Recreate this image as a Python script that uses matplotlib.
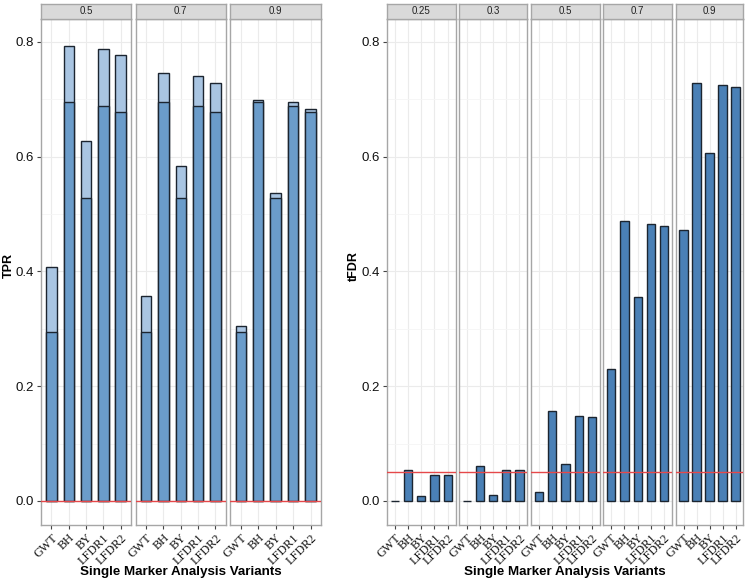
import matplotlib
matplotlib.use("Agg")
import matplotlib.pyplot as plt
from matplotlib.ticker import MultipleLocator

categories = ["GWT", "BH", "BY", "LFDR1", "LFDR2"]

tpr_groups = ["0.5", "0.7", "0.9"]
tpr_upper = [
    [0.408, 0.793, 0.628, 0.788, 0.778],
    [0.358, 0.746, 0.584, 0.741, 0.729],
    [0.305, 0.699, 0.537, 0.695, 0.683],
]
tpr_lower = [
    [0.295, 0.696, 0.528, 0.689, 0.678],
    [0.295, 0.696, 0.528, 0.689, 0.678],
    [0.295, 0.696, 0.528, 0.689, 0.678],
]

fdr_groups = ["0.25", "0.3", "0.5", "0.7", "0.9"]
fdr_values = [
    [0.000, 0.053, 0.009, 0.046, 0.046],
    [0.000, 0.060, 0.011, 0.053, 0.053],
    [0.015, 0.156, 0.064, 0.148, 0.146],
    [0.230, 0.488, 0.356, 0.483, 0.479],
    [0.473, 0.729, 0.607, 0.725, 0.722],
]

tpr_ref = 0.0
fdr_ref = 0.05
y_ticks = [0.0, 0.2, 0.4, 0.6, 0.8]

W, H = 747, 582
fig = plt.figure(figsize=(W / 100, H / 100), dpi=100)
fig.patch.set_facecolor("white")

SANS = ["Liberation Sans", "DejaVu Sans"]
SERIF = ["Liberation Serif", "DejaVu Serif"]

LIGHT = "#a9c5e2"
DARK = "#6b9cca"
SOLID = "#4a80b6"
EDGE = "#1c2530"
RED = "#e5484a"

panel_top, panel_bot = 19, 525
strip_top = 4


def make_panel(x0, x1, label, first):
    ax = fig.add_axes([x0 / W, (H - panel_bot) / H, (x1 - x0) / W, (panel_bot - panel_top) / H])
    ax.set_xlim(-0.6, len(categories) - 0.4)
    ax.set_ylim(-0.042, 0.84)
    ax.set_facecolor("white")
    ax.yaxis.set_major_locator(MultipleLocator(0.2))
    ax.yaxis.set_minor_locator(MultipleLocator(0.1))
    ax.grid(which="major", axis="y", color="#ebebeb", lw=0.8, zorder=0)
    ax.grid(which="minor", axis="y", color="#f5f5f5", lw=0.6, zorder=0)
    ax.set_xticks(range(len(categories)))
    ax.grid(which="major", axis="x", color="#ebebeb", lw=0.8, zorder=0)
    ax.set_axisbelow(True)
    for s in ax.spines.values():
        s.set_color("#a6a6a6")
        s.set_linewidth(1.0)
    ax.set_xticklabels(categories, rotation=45, ha="right", va="top",
                       rotation_mode="anchor", fontsize=8.8, family=SERIF, color="#111111")
    ax.tick_params(axis="x", length=3, color="#444444", pad=2)
    ax.tick_params(axis="y", which="minor", length=0)
    if first:
        ax.set_yticks(y_ticks)
        ax.set_yticklabels(["%.1f" % v for v in y_ticks], fontsize=9.5, family=SANS, color="#111111")
        ax.tick_params(axis="y", which="major", length=3, color="#444444", pad=2)
    else:
        ax.tick_params(axis="y", which="major", length=0, labelleft=False)
    sax = fig.add_axes([x0 / W, (H - panel_top) / H, (x1 - x0) / W, (panel_top - strip_top) / H])
    sax.set_facecolor("#d9d9d9")
    sax.set_xticks([])
    sax.set_yticks([])
    for s in sax.spines.values():
        s.set_color("#a6a6a6")
        s.set_linewidth(1.0)
    sax.text(0.5, 0.5, label, ha="center", va="center", fontsize=7, family=SANS,
             color="#222222", transform=sax.transAxes)
    return ax


left_edges = [(41, 131), (135.7, 225.7), (230.3, 321)]
for i, (x0, x1) in enumerate(left_edges):
    ax = make_panel(x0, x1, tpr_groups[i], i == 0)
    xs = range(len(categories))
    ax.bar(xs, tpr_upper[i], width=0.6, color=LIGHT, edgecolor=EDGE, lw=1.0, zorder=2)
    ax.bar(xs, tpr_lower[i], width=0.6, color=DARK, edgecolor=EDGE, lw=1.0, zorder=3)
    ax.axhline(tpr_ref, color=RED, lw=1.0, zorder=4)

right_edges = [(386.7, 455.7), (459.3, 527.3), (531.3, 599.7), (603.3, 672), (675.7, 743.3)]
for i, (x0, x1) in enumerate(right_edges):
    ax = make_panel(x0, x1, fdr_groups[i], i == 0)
    xs = range(len(categories))
    ax.bar(xs, fdr_values[i], width=0.62, color=SOLID, edgecolor=EDGE, lw=1.0, zorder=3)
    ax.axhline(fdr_ref, color=RED, lw=1.0, zorder=4)

fig.text(8.5 / W, 1 - 266 / H, "TPR", rotation=90, ha="center", va="center",
         fontsize=9, fontweight="bold", family=SANS)
fig.text(354 / W, 1 - 266 / H, "tFDR", rotation=90, ha="center", va="center",
         fontsize=9, fontweight="bold", family=SANS)

fig.text(181 / W, 1 - 572 / H, "Single Marker Analysis Variants", ha="center", va="center",
         fontsize=9.6, fontweight="bold", family=SANS)
fig.text(565 / W, 1 - 572 / H, "Single Marker Analysis Variants", ha="center", va="center",
         fontsize=9.6, fontweight="bold", family=SANS)

fig.savefig("out.png", dpi=100)
